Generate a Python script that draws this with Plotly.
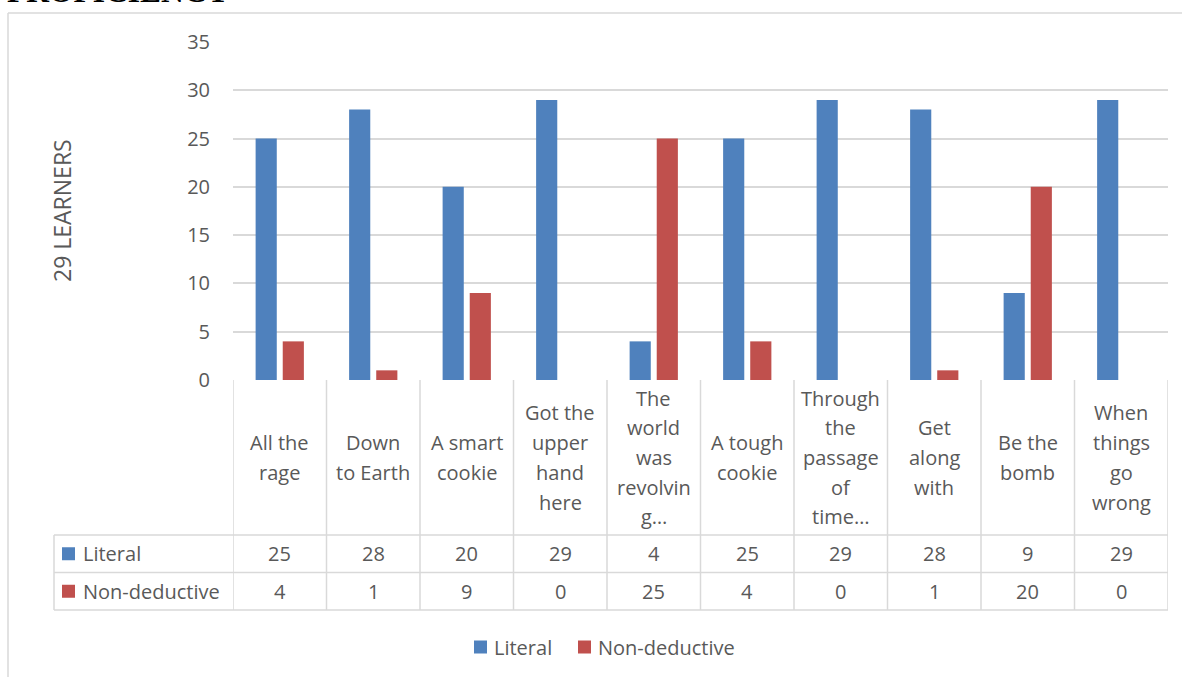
import plotly.graph_objects as go

categories = ["All the<br>rage", "Down<br>to Earth", "A smart<br>cookie", "Got the<br>upper<br>hand<br>here",
              "The<br>world<br>was<br>revolvin<br>g…", "A tough<br>cookie", "Through<br>the<br>passage<br>of<br>time…",
              "Get<br>along<br>with", "Be the<br>bomb", "When<br>things<br>go<br>wrong"]
literal = [25, 28, 20, 29, 4, 25, 29, 28, 9, 29]
non_deductive = [4, 1, 9, 0, 25, 4, 0, 1, 20, 0]
series_names = ["Literal", "Non-deductive"]
colors = ["#4F81BD", "#C0504D"]
y_ticks = [0, 5, 10, 15, 20, 25, 30, 35]

W, H = 1182, 677
ML, MR, MT, MB = 233, 14, 42, 297
PW, PH = W - ML - MR, H - MT - MB
TXT = "#595959"
GRID = "#d9d9d9"
FONT = "Open Sans"

def px(x):
    return (x - ML) / PW

def py(y):
    return (H - MB - y) / PH

idx = list(range(len(categories)))
fig = go.Figure()
for name, vals, c in zip(series_names, [literal, non_deductive], colors):
    fig.add_trace(go.Bar(x=idx, y=vals, name=name, marker=dict(color=c, line=dict(width=0)),
                         showlegend=False))

shapes = []
annotations = []
# table geometry (pixels)
HEAD_TOP, HEAD_BOT, ROW1_BOT, ROW2_BOT = 380, 535, 572.5, 610
TABLE_LEFT = 54
line = dict(color=GRID, width=1.5)
n = len(categories)
for i in range(n + 1):
    shapes.append(dict(type="line", xref="x", yref="paper", x0=i - 0.5, x1=i - 0.5,
                       y0=py(HEAD_TOP), y1=py(ROW2_BOT), line=line))
shapes.append(dict(type="line", xref="paper", yref="paper", x0=px(TABLE_LEFT), x1=px(TABLE_LEFT),
                   y0=py(HEAD_BOT), y1=py(ROW2_BOT), line=line))
for yy in [HEAD_BOT, ROW1_BOT, ROW2_BOT]:
    shapes.append(dict(type="line", xref="paper", yref="paper", x0=px(TABLE_LEFT), x1=1,
                       y0=py(yy), y1=py(yy), line=line))
# chart border
shapes.append(dict(type="line", xref="paper", yref="paper", x0=px(8), x1=px(W + 2), y0=py(13), y1=py(13), line=line))
shapes.append(dict(type="line", xref="paper", yref="paper", x0=px(8), x1=px(8), y0=py(13), y1=py(H + 2), line=line))

# header labels
head_c = (HEAD_TOP + HEAD_BOT) / 2
LS = 29.7
for i, cat in enumerate(categories):
    lines = cat.split("<br>")
    k = len(lines)
    for j, t in enumerate(lines):
        yc = head_c + (j - (k - 1) / 2) * LS
        annotations.append(dict(x=i, y=py(yc), xref="x", yref="paper", text=t, showarrow=False,
                                font=dict(family=FONT, size=20, color=TXT), xanchor="center", yanchor="middle"))
# rows
row_centers = [(HEAD_BOT + ROW1_BOT) / 2, (ROW1_BOT + ROW2_BOT) / 2]
for name, vals, c, yc in zip(series_names, [literal, non_deductive], colors, row_centers):
    shapes.append(dict(type="rect", xref="paper", yref="paper", x0=px(62), x1=px(75),
                       y0=py(yc + 6.5), y1=py(yc - 6.5), fillcolor=c, line=dict(width=0)))
    annotations.append(dict(x=px(81), y=py(yc), xref="paper", yref="paper", text=name, showarrow=False,
                            font=dict(family=FONT, size=20, color=TXT), xanchor="left", yanchor="middle"))
    for i, v in enumerate(vals):
        annotations.append(dict(x=i, y=py(yc), xref="x", yref="paper", text=str(v), showarrow=False,
                                font=dict(family=FONT, size=20, color=TXT), xanchor="center", yanchor="middle"))

# legend (bottom)
LEG_Y = 647
leg_x = [474, 578]
for name, c, lx in zip(series_names, colors, leg_x):
    shapes.append(dict(type="rect", xref="paper", yref="paper", x0=px(lx), x1=px(lx + 13),
                       y0=py(LEG_Y + 6.5), y1=py(LEG_Y - 6.5), fillcolor=c, line=dict(width=0)))
    annotations.append(dict(x=px(lx + 18), y=py(LEG_Y), xref="paper", yref="paper", text=name, showarrow=False,
                            font=dict(family=FONT, size=20, color=TXT), xanchor="left", yanchor="middle"))

# y axis title
annotations.append(dict(x=px(62), y=py(211), xref="paper", yref="paper", text="29 LEARNERS", textangle=-90,
                        showarrow=False, font=dict(family=FONT, size=23, color=TXT),
                        xanchor="center", yanchor="middle"))
# cut-off heading at top
annotations.append(dict(x=px(6), y=py(10), xref="paper", yref="paper", text="<b>PROFICIENCY</b>",
                        showarrow=False, font=dict(family="Liberation Serif", size=31.5, color="#000000"),
                        xanchor="left", yanchor="bottom", borderpad=0))

fig.update_layout(
    width=W, height=H,
    margin=dict(l=ML, r=MR, t=MT, b=MB),
    paper_bgcolor="white", plot_bgcolor="white",
    barmode="group", bargap=0.42, bargroupgap=0.22,
    font=dict(family=FONT, size=20, color=TXT),
    xaxis=dict(range=[-0.5, n - 0.5], showticklabels=False, showgrid=False, zeroline=False,
               showline=False, ticks=""),
    yaxis=dict(range=[0, 35], tickvals=y_ticks, showgrid=True, gridcolor=GRID, gridwidth=1.5,
               zeroline=False, showline=False, ticks="", ticklabelstandoff=22,
               tickfont=dict(family=FONT, size=20, color=TXT)),
    showlegend=False,
    shapes=shapes, annotations=annotations,
)
fig.write_html("out.html")
